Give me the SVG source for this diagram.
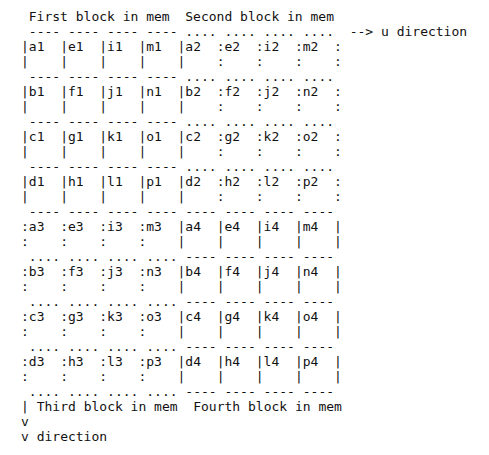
<svg xmlns="http://www.w3.org/2000/svg" width="489" height="455" viewBox="0 0 489 455">
<style>
text{font-family:"DejaVu Sans Mono","Liberation Mono",monospace;font-size:13px;fill:#111;white-space:pre}
</style>
<rect width="489" height="455" fill="#fff"/>
<g id="labels">
<text xml:space="preserve" x="28.8" y="21">First block in mem</text>
<text xml:space="preserve" x="185.3" y="21">Second block in mem</text>
<text xml:space="preserve" x="36.7" y="411">Third block in mem</text>
<text xml:space="preserve" x="193.2" y="411">Fourth block in mem</text>
</g>
<g id="block1">
<text xml:space="preserve" x="21"><tspan x="21" y="36"> ---- ---- ---- ----</tspan><tspan x="21" y="51">|a1  |e1  |i1  |m1</tspan><tspan x="21" y="66">|    |    |    |</tspan><tspan x="21" y="81"> ---- ---- ---- ----</tspan><tspan x="21" y="96">|b1  |f1  |j1  |n1</tspan><tspan x="21" y="111">|    |    |    |</tspan><tspan x="21" y="126"> ---- ---- ---- ----</tspan><tspan x="21" y="141">|c1  |g1  |k1  |o1</tspan><tspan x="21" y="156">|    |    |    |</tspan><tspan x="21" y="171"> ---- ---- ---- ----</tspan><tspan x="21" y="186">|d1  |h1  |l1  |p1</tspan><tspan x="21" y="201">|    |    |    |</tspan><tspan x="21" y="216"> ---- ---- ---- ----</tspan></text>
</g>
<g id="block2">
<text xml:space="preserve"><tspan x="177.5" y="36"> .... .... .... ....</tspan><tspan x="177.5" y="51">|a2  :e2  :i2  :m2  :</tspan><tspan x="177.5" y="66">|    :    :    :    :</tspan><tspan x="177.5" y="81"> .... .... .... ....</tspan><tspan x="177.5" y="96">|b2  :f2  :j2  :n2  :</tspan><tspan x="177.5" y="111">|    :    :    :    :</tspan><tspan x="177.5" y="126"> .... .... .... ....</tspan><tspan x="177.5" y="141">|c2  :g2  :k2  :o2  :</tspan><tspan x="177.5" y="156">|    :    :    :    :</tspan><tspan x="177.5" y="171"> .... .... .... ....</tspan><tspan x="177.5" y="186">|d2  :h2  :l2  :p2  :</tspan><tspan x="177.5" y="201">|    :    :    :    :</tspan><tspan x="177.5" y="216"> ---- ---- ---- ----</tspan></text>
</g>
<g id="block3">
<text xml:space="preserve"><tspan x="21" y="231">:a3  :e3  :i3  :m3</tspan><tspan x="21" y="246">:    :    :    :</tspan><tspan x="21" y="261"> .... .... .... ....</tspan><tspan x="21" y="276">:b3  :f3  :j3  :n3</tspan><tspan x="21" y="291">:    :    :    :</tspan><tspan x="21" y="306"> .... .... .... ....</tspan><tspan x="21" y="321">:c3  :g3  :k3  :o3</tspan><tspan x="21" y="336">:    :    :    :</tspan><tspan x="21" y="351"> .... .... .... ....</tspan><tspan x="21" y="366">:d3  :h3  :l3  :p3</tspan><tspan x="21" y="381">:    :    :    :</tspan><tspan x="21" y="396"> .... .... .... ....</tspan></text>
</g>
<g id="block4">
<text xml:space="preserve"><tspan x="177.5" y="231">|a4  |e4  |i4  |m4  |</tspan><tspan x="177.5" y="246">|    |    |    |    |</tspan><tspan x="177.5" y="261"> ---- ---- ---- ----</tspan><tspan x="177.5" y="276">|b4  |f4  |j4  |n4  |</tspan><tspan x="177.5" y="291">|    |    |    |    |</tspan><tspan x="177.5" y="306"> ---- ---- ---- ----</tspan><tspan x="177.5" y="321">|c4  |g4  |k4  |o4  |</tspan><tspan x="177.5" y="336">|    |    |    |    |</tspan><tspan x="177.5" y="351"> ---- ---- ---- ----</tspan><tspan x="177.5" y="366">|d4  |h4  |l4  |p4  |</tspan><tspan x="177.5" y="381">|    |    |    |    |</tspan><tspan x="177.5" y="396"> ---- ---- ---- ----</tspan></text>
</g>
<g id="connectors">
<text xml:space="preserve" x="349.7" y="36">--&gt; u direction</text>
<text xml:space="preserve"><tspan x="21" y="411">|</tspan><tspan x="21" y="426">v</tspan><tspan x="21" y="441">v direction</tspan></text>
</g>
</svg>
